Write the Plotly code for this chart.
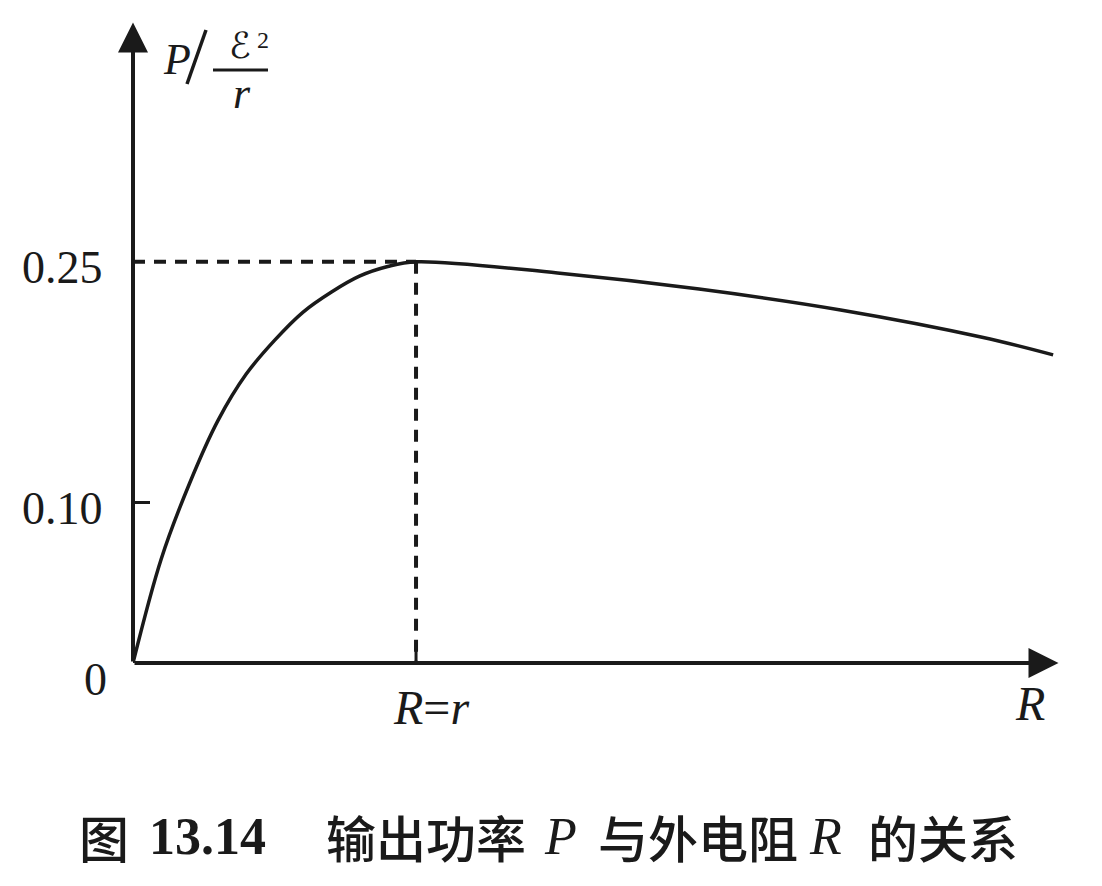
import plotly.graph_objects as go

# Curve values (R in units of r, P in units of E^2/r)
R_vals = [0.0, 0.1, 0.2, 0.3, 0.4, 0.5, 0.6, 0.7, 0.8, 0.9, 1.0, 1.5, 2.0, 2.5, 3.0, 3.251]
P_vals = [0.0, 0.065, 0.112, 0.151, 0.180, 0.201, 0.2185, 0.231, 0.241, 0.247, 0.25,
          0.243, 0.233, 0.220, 0.203, 0.192]

y_ticks = [0.25, 0.10]
y_tick_labels = ["0.25", "0.10"]
R_peak = 1.0
P_peak = 0.25
x_end = 3.27
y_end = 0.399

INK = "#1a1a1a"
serif = "Liberation Serif, Times New Roman, serif"
cjk = "Noto Sans CJK SC"

# page coordinates helpers (screen px -> paper fractions); plot area is 934x642 px
L, T, PW, PH = 125, 13, 934, 642
W, H = L + PW + 27, 870
def px(X):
    return (X - 8 - L) / PW
def py(Y):
    return (T + PH - (Y - 8)) / PH

fig = go.Figure()
fig.add_trace(go.Scatter(x=R_vals, y=P_vals, mode="lines",
                         line=dict(color=INK, width=3.5, shape="spline", smoothing=1.0),
                         hoverinfo="skip", showlegend=False))

# dashed guides
fig.add_trace(go.Scatter(x=[0, R_peak], y=[P_peak, P_peak], mode="lines",
                         line=dict(color=INK, width=4, dash="12px,9px"),
                         hoverinfo="skip", showlegend=False))
fig.add_trace(go.Scatter(x=[R_peak, R_peak], y=[P_peak, 0], mode="lines",
                         line=dict(color=INK, width=4, dash="12px,9px"),
                         hoverinfo="skip", showlegend=False))

ann = []
# axes with arrows
for tip in [(x_end, 0), (0, y_end)]:
    ann.append(dict(x=tip[0], y=tip[1], ax=0, ay=0, xref="x", yref="y", axref="x", ayref="y",
                    showarrow=True, arrowhead=2, arrowwidth=4, arrowsize=1.5, arrowcolor=INK, text=""))

# tick labels
for v, t in zip(y_ticks, y_tick_labels):
    ann.append(dict(x=0, y=v, xref="x", yref="y", text=t, showarrow=False, xanchor="right",
                    xshift=-28, yshift=-6, font=dict(family=serif, size=46, color=INK)))
ann.append(dict(x=0, y=0, xref="x", yref="y", text="0", showarrow=False, xanchor="right",
                yanchor="top", xshift=-24, yshift=11, font=dict(family=serif, size=46, color=INK)))
ann.append(dict(x=R_peak, y=0, xref="x", yref="y", text="<i>R</i>=<i>r</i>", showarrow=False,
                yanchor="top", xshift=15, yshift=-16, font=dict(family=serif, size=48, color=INK)))
ann.append(dict(x=x_end, y=0, xref="x", yref="y", text="<i>R</i>", showarrow=False,
                yanchor="top", xshift=-29, yshift=-12, font=dict(family=serif, size=48, color=INK)))

def label(X, Y, text, family, size, weight="normal"):
    ann.append(dict(x=px(X), y=py(Y), xref="paper", yref="paper", text=text, showarrow=False,
                    xanchor="center", yanchor="middle",
                    font=dict(family=family, size=size, color=INK, weight=weight)))

# y-axis label P / (E^2 / r)
label(177, 60, "<i>P</i>", serif, 44)
label(240, 46, "ℰ", "DejaVu Serif, DejaVu Sans", 36)
label(263, 40, "2", serif, 24)
label(242, 94, "<i>r</i>", serif, 44)

# caption pieces
cap_y = 836
label(104, cap_y, "图", cjk, 50, 500)
label(207, cap_y, "13.14", serif, 52, "bold")
label(426, cap_y, "输出功率", cjk, 50, 500)
label(560, cap_y, "<i>P</i>", serif, 52)
label(698, cap_y, "与外电阻", cjk, 50, 500)
label(825, cap_y, "<i>R</i>", serif, 52)
label(943, cap_y, "的关系", cjk, 50, 500)

shapes = [
    # slash in y label
    dict(type="line", xref="paper", yref="paper", x0=px(187), y0=py(84), x1=px(206), y1=py(30),
         line=dict(color=INK, width=3.5)),
    # fraction bar
    dict(type="line", xref="paper", yref="paper", x0=px(213), y0=py(70), x1=px(268), y1=py(70),
         line=dict(color=INK, width=3)),
    # tick at 0.10
    dict(type="line", xref="x", yref="y", x0=0, y0=0.10, x1=0.06, y1=0.10,
         line=dict(color=INK, width=3)),
    # tick at R=r
    dict(type="line", xref="x", yref="y", x0=R_peak, y0=0, x1=R_peak, y1=0.012,
         line=dict(color=INK, width=3)),
]

fig.update_layout(
    width=W, height=H,
    margin=dict(l=L, r=W - L - PW, t=T, b=H - T - PH),
    plot_bgcolor="white", paper_bgcolor="white",
    xaxis=dict(range=[0, 3.3], visible=False, fixedrange=True),
    yaxis=dict(range=[0, 0.4], visible=False, fixedrange=True),
    annotations=ann, shapes=shapes, showlegend=False,
)

fig.write_html("out.html")
